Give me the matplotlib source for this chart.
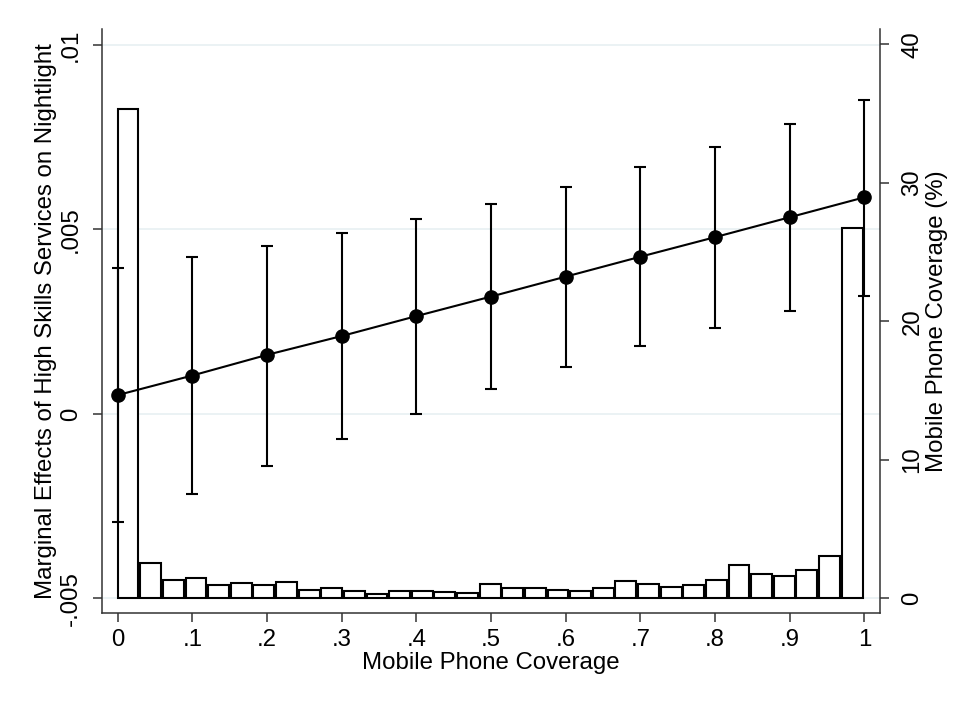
import matplotlib
matplotlib.use('Agg')
import matplotlib.pyplot as plt
import matplotlib.transforms as mtransforms
import numpy as np

plt.rcParams['font.family'] = ['Liberation Sans', 'DejaVu Sans']

# marginal effects at each coverage level (left axis)
coverage = [0.0, 0.1, 0.2, 0.3, 0.4, 0.5, 0.6, 0.7, 0.8, 0.9, 1.0]
me = [0.00051, 0.00104, 0.00160, 0.00211, 0.00265, 0.00318, 0.00372, 0.00426, 0.00479, 0.00533, 0.00587]
ci_lo = [-0.00294, -0.00217, -0.00141, -0.00068, 0.00001, 0.00068, 0.00128, 0.00184, 0.00234, 0.00280, 0.00320]
ci_hi = [0.00395, 0.00424, 0.00455, 0.00490, 0.00528, 0.00570, 0.00615, 0.00668, 0.00724, 0.00786, 0.00851]

# histogram of coverage, percent per bin (right axis)
hist_pct = [35.3, 2.51, 1.29, 1.43, 0.95, 1.07, 0.95, 1.19, 0.56, 0.74, 0.49,
            0.30, 0.49, 0.49, 0.45, 0.40, 1.00, 0.71, 0.76, 0.59, 0.54, 0.71,
            1.26, 1.00, 0.83, 0.92, 1.31, 2.37, 1.77, 1.57, 2.00, 3.05, 26.75]

x_ticks = [0, 0.1, 0.2, 0.3, 0.4, 0.5, 0.6, 0.7, 0.8, 0.9, 1]
x_labels = ['0', '.1', '.2', '.3', '.4', '.5', '.6', '.7', '.8', '.9', '1']
left_ticks = [-0.005, 0, 0.005, 0.01]
left_labels = ['-.005', '0', '.005', '.01']
right_ticks = [0, 10, 20, 30, 40]

spine_col = '#333333'
grid_col = '#e8f0f2'
fs = 17.3

fig = plt.figure(figsize=(9.64, 7.10), dpi=100)
ax = fig.add_axes([0.1058, 0.1366, 0.8071, 0.8226])
ax2 = ax.twinx()
ax.set_zorder(ax2.get_zorder() + 1)
ax.patch.set_visible(False)

# histogram bars
n_bins = len(hist_pct)
edges = np.arange(n_bins) / n_bins
ax2.bar(edges, hist_pct, width=0.92 / n_bins, align='edge', color='white',
        edgecolor='black', linewidth=1.5, zorder=2)

# gridlines at left-axis ticks, drawn under the bars
trans = mtransforms.blended_transform_factory(ax2.transAxes, ax.transData)
for v in left_ticks:
    ax2.plot([0, 1], [v, v], transform=trans, color=grid_col, lw=1.2, zorder=0)

# marginal effects with CIs
me_arr = np.array(me)
yerr = [me_arr - np.array(ci_lo), np.array(ci_hi) - me_arr]
ax.errorbar(coverage, me, yerr=yerr, fmt='none', ecolor='black',
            elinewidth=1.5, capsize=4, capthick=1.5, zorder=3)
ax.plot(coverage, me, '-o', color='black', lw=1.5, ms=9.5, zorder=4)

ax.set_xlim(-0.021, 1.021)
ax.set_ylim(-0.005398, 0.010434)
ax2.set_ylim(-1.08, 41.1)

ax.set_xticks(x_ticks)
ax.set_xticklabels(x_labels)
ax.set_yticks(left_ticks)
ax.set_yticklabels(left_labels, rotation=90, va='center')
ax2.set_yticks(right_ticks)
ax2.set_yticklabels([str(t) for t in right_ticks], rotation=90, va='center')

for a in (ax, ax2):
    a.spines['top'].set_visible(False)
    for s in a.spines.values():
        s.set_color(spine_col)
        s.set_linewidth(1.1)
ax.spines['right'].set_visible(False)
ax2.spines['left'].set_visible(False)
ax2.spines['bottom'].set_visible(False)

ax.tick_params(axis='x', direction='out', length=6.5, width=1.1, color=spine_col,
               labelsize=fs, pad=5)
ax.tick_params(axis='y', direction='out', length=6.5, width=1.1, color=spine_col,
               labelsize=fs, pad=8)
ax2.tick_params(axis='y', direction='out', length=6.5, width=1.1, color=spine_col,
                labelsize=fs, pad=9)

ax.set_xlabel('Mobile Phone Coverage', fontsize=fs, labelpad=1)
ax.set_ylabel('Marginal Effects of High Skills Services on Nightlight', fontsize=fs, labelpad=2)
ax2.set_ylabel('Mobile Phone Coverage (%)', fontsize=fs, labelpad=2)

fig.savefig('out.png', dpi=100, facecolor='white')
